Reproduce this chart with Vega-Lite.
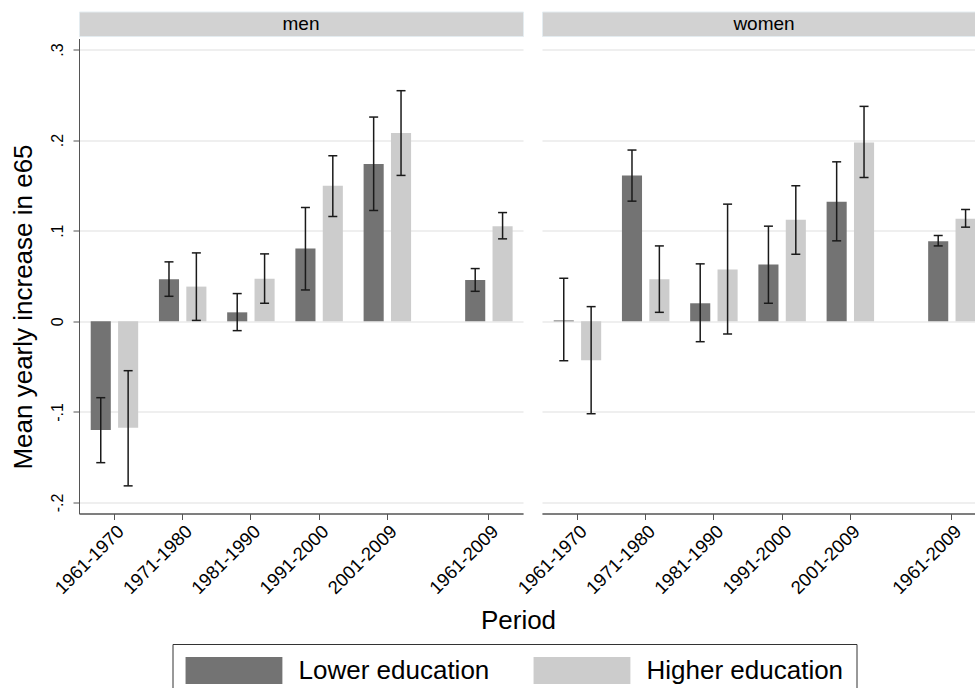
{
  "$schema": "https://vega.github.io/schema/vega-lite/v6.json",
  "padding": {"left": 10, "top": 10.5, "right": 0, "bottom": 0},
  "config": {"font": "Liberation Sans", "view": {"stroke": null}},
  "datasets": {
    "est": [
      {"sex": "men", "period": "1961-1970", "edu": "Lower education", "mean": -0.120, "lo": -0.156, "hi": -0.0843},
      {"sex": "men", "period": "1961-1970", "edu": "Higher education", "mean": -0.1175, "lo": -0.1816, "hi": -0.0545},
      {"sex": "men", "period": "1971-1980", "edu": "Lower education", "mean": 0.0464, "lo": 0.0276, "hi": 0.0656},
      {"sex": "men", "period": "1971-1980", "edu": "Higher education", "mean": 0.0383, "lo": 0.001, "hi": 0.0755},
      {"sex": "men", "period": "1981-1990", "edu": "Lower education", "mean": 0.0099, "lo": -0.0103, "hi": 0.0306},
      {"sex": "men", "period": "1981-1990", "edu": "Higher education", "mean": 0.0471, "lo": 0.0199, "hi": 0.0744},
      {"sex": "men", "period": "1991-2000", "edu": "Lower education", "mean": 0.0803, "lo": 0.0346, "hi": 0.1256},
      {"sex": "men", "period": "1991-2000", "edu": "Higher education", "mean": 0.1495, "lo": 0.1157, "hi": 0.1827},
      {"sex": "men", "period": "2001-2009", "edu": "Lower education", "mean": 0.1735, "lo": 0.1223, "hi": 0.2254},
      {"sex": "men", "period": "2001-2009", "edu": "Higher education", "mean": 0.2077, "lo": 0.161, "hi": 0.2545},
      {"sex": "men", "period": "1961-2009", "edu": "Lower education", "mean": 0.0457, "lo": 0.0331, "hi": 0.0582},
      {"sex": "men", "period": "1961-2009", "edu": "Higher education", "mean": 0.105, "lo": 0.091, "hi": 0.120},
      {"sex": "women", "period": "1961-1970", "edu": "Lower education", "mean": 0.001, "lo": -0.0435, "hi": 0.0475},
      {"sex": "women", "period": "1961-1970", "edu": "Higher education", "mean": -0.0431, "lo": -0.102, "hi": 0.0162},
      {"sex": "women", "period": "1971-1980", "edu": "Lower education", "mean": 0.161, "lo": 0.1326, "hi": 0.189},
      {"sex": "women", "period": "1971-1980", "edu": "Higher education", "mean": 0.0464, "lo": 0.0099, "hi": 0.0832},
      {"sex": "women", "period": "1981-1990", "edu": "Lower education", "mean": 0.0199, "lo": -0.0225, "hi": 0.0634},
      {"sex": "women", "period": "1981-1990", "edu": "Higher education", "mean": 0.0571, "lo": -0.014, "hi": 0.1293},
      {"sex": "women", "period": "1991-2000", "edu": "Lower education", "mean": 0.0626, "lo": 0.0199, "hi": 0.105},
      {"sex": "women", "period": "1991-2000", "edu": "Higher education", "mean": 0.112, "lo": 0.074, "hi": 0.1495},
      {"sex": "women", "period": "2001-2009", "edu": "Lower education", "mean": 0.1319, "lo": 0.0888, "hi": 0.176},
      {"sex": "women", "period": "2001-2009", "edu": "Higher education", "mean": 0.1974, "lo": 0.1587, "hi": 0.2372},
      {"sex": "women", "period": "1961-2009", "edu": "Lower education", "mean": 0.0884, "lo": 0.0832, "hi": 0.0947},
      {"sex": "women", "period": "1961-2009", "edu": "Higher education", "mean": 0.1131, "lo": 0.1039, "hi": 0.1234}
    ]
  },
  "spacing": 2,
  "vconcat": [
    {
      "hconcat": [
        {"data": {"values": [{"sex": "men"}]}, "width": 444, "height": 24.5, "view": {"fill": "#d2d2d2", "stroke": "#e4ecf0"},
         "mark": {"type": "text", "fontSize": 19, "color": "#000"}, "encoding": {"text": {"field": "sex", "type": "nominal"}}},
        {"data": {"values": [{"sex": "women"}]}, "width": 444, "height": 24.5, "view": {"fill": "#d2d2d2", "stroke": "#e4ecf0"},
         "mark": {"type": "text", "fontSize": 19, "color": "#000"}, "encoding": {"text": {"field": "sex", "type": "nominal"}}}
      ],
      "spacing": 19,
      "bounds": "flush"
    },
    {
      "hconcat": [
        {
          "data": {"name": "est"},
          "transform": [{"filter": "datum.sex === 'men'"}],
          "width": 444,
          "height": 475,
          "layer": [
            {
              "transform": [{"filter": "datum.period !== '1961-2009'"}],
              "encoding": {
                "x": {"field": "period", "type": "nominal", "sort": null,
                      "scale": {"domain": ["1961-1970", "1971-1980", "1981-1990", "1991-2000", "2001-2009"], "paddingInner": 0, "paddingOuter": 0.754, "align": 0.013},
                      "axis": {"orient": "bottom", "title": null, "labelAngle": -45, "labelFontSize": 18.5, "labelColor": "#000", "labelPadding": 2, "tickSize": 6, "tickColor": "#555", "domainColor": "#555", "grid": false, "labelOverlap": false}},
                "xOffset": {"field": "edu", "type": "nominal", "scale": {"domain": ["Lower education", "Higher education"], "paddingInner": 0.266, "paddingOuter": 0.379}}
              },
              "layer": [
                {"mark": {"type": "bar"},
                 "encoding": {
                   "y": {"field": "mean", "type": "quantitative", "title": "Mean yearly increase in e65",
                         "scale": {"domain": [-0.2121, 0.3121], "nice": false, "zero": false},
                         "axis": {"values": [-0.2, -0.1, 0, 0.1, 0.2, 0.3], "labelExpr": "datum.value == 0 ? '0' : (datum.value < 0 ? '-' : '') + '.' + round(abs(datum.value) * 10)", "labelAngle": -90, "labelAlign": "center", "labelBaseline": "bottom", "labelFontSize": 16, "labelColor": "#000", "labelPadding": 7.5, "tickSize": 6, "tickColor": "#555", "domainColor": "#555", "grid": true, "gridColor": "#eaeaea", "gridWidth": 1.5, "titleFontSize": 26, "titleFontWeight": "normal", "titleColor": "#000", "titlePadding": 13, "titleY": 268}},
                   "y2": {"datum": 0},
                   "color": {"field": "edu", "type": "nominal", "scale": {"domain": ["Lower education", "Higher education"], "range": ["#737373", "#cccccc"]},
                             "legend": {"orient": "none", "legendX": 93.5, "legendY": 632.5, "direction": "horizontal", "title": null, "symbolType": "M-1,-1H6.2V1H-1Z", "symbolSize": 723.6, "symbolStrokeWidth": 0, "labelFontSize": 26, "labelColor": "#000", "labelOffset": 86, "labelLimit": 500, "columnPadding": 44, "padding": 13, "strokeColor": "#333"}}
                 }},
                {"mark": {"type": "rule", "color": "#1a1a1a", "strokeWidth": 1.5},
                 "encoding": {"y": {"field": "lo", "type": "quantitative", "title": "Mean yearly increase in e65", "scale": {"domain": [-0.2121, 0.3121], "nice": false, "zero": false}}, "y2": {"field": "hi"}}},
                {"mark": {"type": "tick", "orient": "horizontal", "size": 9, "thickness": 1.5, "color": "#1a1a1a", "opacity": 1},
                 "encoding": {"y": {"field": "lo", "type": "quantitative", "title": "Mean yearly increase in e65", "scale": {"domain": [-0.2121, 0.3121], "nice": false, "zero": false}}}},
                {"mark": {"type": "tick", "orient": "horizontal", "size": 9, "thickness": 1.5, "color": "#1a1a1a", "opacity": 1},
                 "encoding": {"y": {"field": "hi", "type": "quantitative", "title": "Mean yearly increase in e65", "scale": {"domain": [-0.2121, 0.3121], "nice": false, "zero": false}}}}
              ]
            },
            {
              "transform": [{"filter": "datum.period === '1961-2009'"}],
              "encoding": {
                "x": {"field": "period", "type": "nominal", "sort": null,
                      "scale": {"domain": ["1961-1970", "1971-1980", "1981-1990", "1991-2000", "2001-2009", "1961-2009"], "paddingInner": 0, "paddingOuter": 0.2543, "align": 1},
                      "axis": {"orient": "bottom", "values": ["1961-2009"], "title": null, "labelAngle": -45, "labelFontSize": 18.5, "labelColor": "#000", "labelPadding": 2, "tickSize": 6, "tickColor": "#555", "domainColor": "#555", "grid": false, "labelOverlap": false}},
                "xOffset": {"field": "edu", "type": "nominal", "scale": {"domain": ["Lower education", "Higher education"], "paddingInner": 0.266, "paddingOuter": 0.379}}
              },
              "layer": [
                {"mark": {"type": "bar"},
                 "encoding": {
                   "y": {"field": "mean", "type": "quantitative", "title": "Mean yearly increase in e65", "scale": {"domain": [-0.2121, 0.3121], "nice": false, "zero": false}},
                   "y2": {"datum": 0},
                   "color": {"field": "edu", "type": "nominal", "scale": {"domain": ["Lower education", "Higher education"], "range": ["#737373", "#cccccc"]}}
                 }},
                {"mark": {"type": "rule", "color": "#1a1a1a", "strokeWidth": 1.5},
                 "encoding": {"y": {"field": "lo", "type": "quantitative", "title": "Mean yearly increase in e65", "scale": {"domain": [-0.2121, 0.3121], "nice": false, "zero": false}}, "y2": {"field": "hi"}}},
                {"mark": {"type": "tick", "orient": "horizontal", "size": 9, "thickness": 1.5, "color": "#1a1a1a", "opacity": 1},
                 "encoding": {"y": {"field": "lo", "type": "quantitative", "title": "Mean yearly increase in e65", "scale": {"domain": [-0.2121, 0.3121], "nice": false, "zero": false}}}},
                {"mark": {"type": "tick", "orient": "horizontal", "size": 9, "thickness": 1.5, "color": "#1a1a1a", "opacity": 1},
                 "encoding": {"y": {"field": "hi", "type": "quantitative", "title": "Mean yearly increase in e65", "scale": {"domain": [-0.2121, 0.3121], "nice": false, "zero": false}}}}
              ]
            }
          ],
          "resolve": {"scale": {"x": "independent", "xOffset": "independent"}}
        },
        {
          "data": {"name": "est"},
          "transform": [{"filter": "datum.sex === 'women'"}],
          "width": 444,
          "height": 475,
          "layer": [
            {
              "transform": [{"filter": "datum.period !== '1961-2009'"}],
              "encoding": {
                "x": {"field": "period", "type": "nominal", "sort": null,
                      "scale": {"domain": ["1961-1970", "1971-1980", "1981-1990", "1991-2000", "2001-2009"], "paddingInner": 0, "paddingOuter": 0.754, "align": 0.013},
                      "axis": {"orient": "bottom", "title": null, "labelAngle": -45, "labelFontSize": 18.5, "labelColor": "#000", "labelPadding": 2, "tickSize": 6, "tickColor": "#555", "domainColor": "#555", "grid": false, "labelOverlap": false}},
                "xOffset": {"field": "edu", "type": "nominal", "scale": {"domain": ["Lower education", "Higher education"], "paddingInner": 0.266, "paddingOuter": 0.379}}
              },
              "layer": [
                {"mark": {"type": "bar"},
                 "encoding": {
                   "y": {"field": "mean", "type": "quantitative",
                         "scale": {"domain": [-0.2121, 0.3121], "nice": false, "zero": false},
                         "axis": {"values": [-0.2, -0.1, 0, 0.1, 0.2, 0.3], "labels": false, "ticks": false, "domain": false, "grid": true, "gridColor": "#eaeaea", "gridWidth": 1.5, "title": null}},
                   "y2": {"datum": 0},
                   "color": {"field": "edu", "type": "nominal", "scale": {"domain": ["Lower education", "Higher education"], "range": ["#737373", "#cccccc"]}}
                 }},
                {"mark": {"type": "rule", "color": "#1a1a1a", "strokeWidth": 1.5},
                 "encoding": {"y": {"field": "lo", "type": "quantitative", "scale": {"domain": [-0.2121, 0.3121], "nice": false, "zero": false}}, "y2": {"field": "hi"}}},
                {"mark": {"type": "tick", "orient": "horizontal", "size": 9, "thickness": 1.5, "color": "#1a1a1a", "opacity": 1},
                 "encoding": {"y": {"field": "lo", "type": "quantitative", "scale": {"domain": [-0.2121, 0.3121], "nice": false, "zero": false}}}},
                {"mark": {"type": "tick", "orient": "horizontal", "size": 9, "thickness": 1.5, "color": "#1a1a1a", "opacity": 1},
                 "encoding": {"y": {"field": "hi", "type": "quantitative", "scale": {"domain": [-0.2121, 0.3121], "nice": false, "zero": false}}}}
              ]
            },
            {
              "transform": [{"filter": "datum.period === '1961-2009'"}],
              "encoding": {
                "x": {"field": "period", "type": "nominal", "sort": null,
                      "scale": {"domain": ["1961-1970", "1971-1980", "1981-1990", "1991-2000", "2001-2009", "1961-2009"], "paddingInner": 0, "paddingOuter": 0.2543, "align": 1},
                      "axis": {"orient": "bottom", "values": ["1961-2009"], "title": null, "labelAngle": -45, "labelFontSize": 18.5, "labelColor": "#000", "labelPadding": 2, "tickSize": 6, "tickColor": "#555", "domainColor": "#555", "grid": false, "labelOverlap": false}},
                "xOffset": {"field": "edu", "type": "nominal", "scale": {"domain": ["Lower education", "Higher education"], "paddingInner": 0.266, "paddingOuter": 0.379}}
              },
              "layer": [
                {"mark": {"type": "bar"},
                 "encoding": {
                   "y": {"field": "mean", "type": "quantitative", "scale": {"domain": [-0.2121, 0.3121], "nice": false, "zero": false}},
                   "y2": {"datum": 0},
                   "color": {"field": "edu", "type": "nominal", "scale": {"domain": ["Lower education", "Higher education"], "range": ["#737373", "#cccccc"]}}
                 }},
                {"mark": {"type": "rule", "color": "#1a1a1a", "strokeWidth": 1.5},
                 "encoding": {"y": {"field": "lo", "type": "quantitative", "scale": {"domain": [-0.2121, 0.3121], "nice": false, "zero": false}}, "y2": {"field": "hi"}}},
                {"mark": {"type": "tick", "orient": "horizontal", "size": 9, "thickness": 1.5, "color": "#1a1a1a", "opacity": 1},
                 "encoding": {"y": {"field": "lo", "type": "quantitative", "scale": {"domain": [-0.2121, 0.3121], "nice": false, "zero": false}}}},
                {"mark": {"type": "tick", "orient": "horizontal", "size": 9, "thickness": 1.5, "color": "#1a1a1a", "opacity": 1},
                 "encoding": {"y": {"field": "hi", "type": "quantitative", "scale": {"domain": [-0.2121, 0.3121], "nice": false, "zero": false}}}}
              ]
            }
          ],
          "resolve": {"scale": {"x": "independent", "xOffset": "independent"}}
        }
      ],
      "spacing": 19,
      "bounds": "flush"
    },
    {
      "data": {"values": [{"t": "Period"}]},
      "width": 879,
      "height": 42,
      "mark": {"type": "text", "fontSize": 26, "color": "#000"},
      "encoding": {"text": {"field": "t", "type": "nominal"}}
    }
  ]
}
